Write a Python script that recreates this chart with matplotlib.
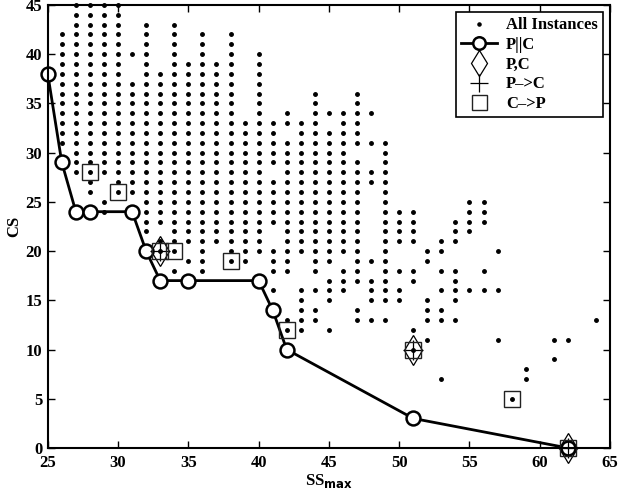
import numpy as np
import matplotlib.pyplot as plt

plt.rcParams['font.family'] = ['Liberation Serif', 'DejaVu Serif']
plt.rcParams['font.weight'] = 'bold'
plt.rcParams['font.size'] = 12

# all instances, stored as vertical runs of dots: column x, lowest y, highest y
inst_x = [26, 27, 28, 29, 29, 30, 31, 31, 32, 33, 33, 34, 34, 35, 35, 36, 37, 38, 39, 40,
          41, 41, 41, 41, 42, 42, 42, 43, 43, 44, 44, 44, 45, 45, 45, 45, 46, 46,
          47, 47, 47, 48, 48, 48, 48, 48, 48, 49, 49, 50, 50, 50, 51, 51, 51, 51,
          52, 52, 52, 53, 53, 53, 53, 53, 54, 54, 54, 55, 55, 56, 56, 56,
          57, 57, 57, 58, 59, 61, 61, 62, 62, 64]
inst_lo = [31, 28, 26, 24, 28, 26, 26, 40, 22, 20, 23, 18, 20, 19, 21, 18, 21, 19, 19, 20,
           16, 18, 23, 29, 12, 18, 33, 12, 20, 13, 16, 18, 12, 15, 19, 34, 16, 20,
           13, 17, 31, 13, 15, 19, 27, 31, 34, 13, 15, 15, 18, 21, 10, 12, 17, 21,
           11, 13, 19, 7, 13, 16, 18, 20, 13, 15, 21, 16, 22, 16, 18, 23,
           11, 16, 20, 5, 7, 9, 11, 0, 11, 13]
inst_hi = [42, 45, 45, 25, 45, 45, 37, 40, 43, 21, 38, 18, 43, 19, 39, 42, 39, 42, 33, 40,
           16, 20, 27, 33, 13, 31, 34, 16, 33, 14, 16, 36, 12, 17, 32, 34, 18, 34,
           14, 29, 36, 13, 17, 19, 28, 31, 34, 13, 31, 16, 18, 24, 10, 12, 18, 24,
           11, 15, 20, 7, 14, 16, 18, 21, 13, 18, 23, 16, 25, 16, 18, 25,
           11, 16, 20, 5, 8, 9, 11, 0, 11, 13]

# P||C front
pc_x = [25, 26, 27, 28, 31, 32, 33, 35, 40, 41, 42, 51, 62]
pc_y = [38, 29, 24, 24, 24, 20, 17, 17, 17, 14, 10, 3, 0]

# P,C and P->C
pcomma_x = [33, 51, 62]
pcomma_y = [20, 10, 0]
ptoc_x = [33, 51, 62]
ptoc_y = [20, 10, 0]

# C->P
ctop_x = [28, 30, 33, 34, 38, 42, 51, 58, 62]
ctop_y = [28, 26, 20, 20, 19, 12, 10, 5, 0]

dots_x = []
dots_y = []
for x, lo, hi in zip(inst_x, inst_lo, inst_hi):
    for y in range(lo, hi + 1):
        dots_x.append(x)
        dots_y.append(y)

fig = plt.figure(figsize=(6.2, 4.95), dpi=100)
ax = fig.add_axes([0.077, 0.095, 0.907, 0.895])

ax.plot(dots_x, dots_y, 'k.', markersize=5, linestyle='none', label='All Instances',
        clip_on=False)
ax.plot(pc_x, pc_y, '-o', color='k', linewidth=2, markersize=10,
        markerfacecolor='white', markeredgewidth=1.8, label='P||C', clip_on=False)
ax.plot(pcomma_x, pcomma_y, 'd', color='k', markersize=15, markerfacecolor='none',
        markeredgewidth=0.9, linestyle='none', label='P,C', clip_on=False)
ax.plot(ptoc_x, ptoc_y, '+', color='k', markersize=15, markeredgewidth=0.9,
        linestyle='none', label='P\u2013>C', clip_on=False)
ax.plot(ctop_x, ctop_y, 's', color='#222222', markersize=12, markerfacecolor='none',
        markeredgewidth=1.0, linestyle='none', label='C\u2013>P', clip_on=False)

ax.set_xlim(25, 65)
ax.set_ylim(0, 45)
ax.set_xticks(np.arange(25, 66, 5))
ax.set_yticks(np.arange(0, 46, 5))
ax.tick_params(direction='in', top=True, right=True, length=5, width=1, labelsize=12)
ax.tick_params(axis='x', pad=5)
ax.tick_params(axis='y', pad=4)
for s in ax.spines.values():
    s.set_linewidth(1.5)

ax.set_xlabel('SS$_{\\mathbf{max}}$', fontsize=12, fontweight='bold', labelpad=1)
ax.set_ylabel('CS', fontsize=12, fontweight='bold', labelpad=2)

leg = ax.legend(loc='upper right', fontsize=12, frameon=True, fancybox=False,
                edgecolor='k', framealpha=1, handlelength=2.2, borderaxespad=0.45,
                labelspacing=0.22, handletextpad=0.5, borderpad=0.3, markerscale=0.9)
leg.get_frame().set_linewidth(1.2)

fig.savefig('out.png', dpi=100)
